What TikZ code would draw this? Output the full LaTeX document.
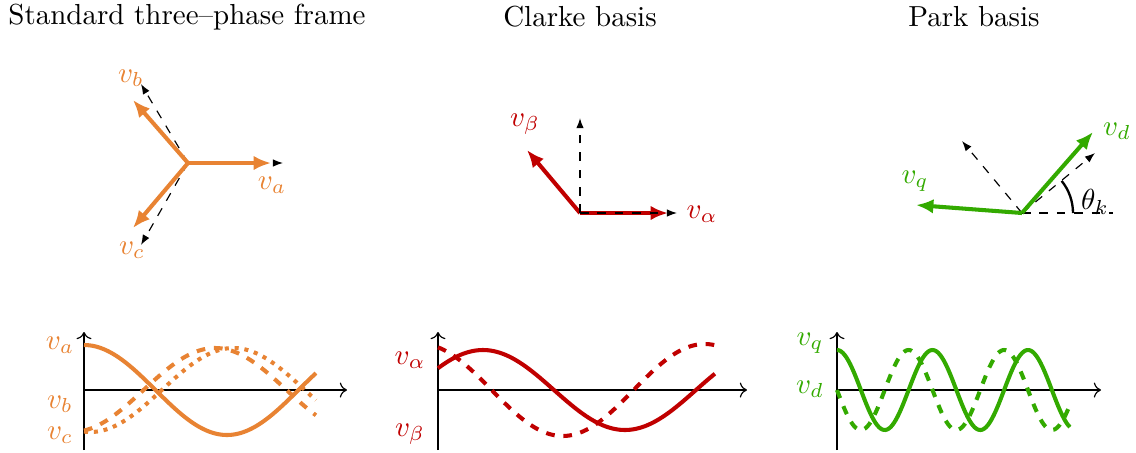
\documentclass[tikz,border=0pt]{standalone}
\usetikzlibrary{arrows.meta}
\definecolor{orng}{RGB}{232,131,51}
\definecolor{rd}{RGB}{192,0,0}
\definecolor{grn}{RGB}{51,170,0}
\begin{document}
\begin{tikzpicture}[x=0.345pt,y=-0.345pt,
  vec/.style={line width=1.4pt,-{Latex[length=6pt,width=5pt]}},
  axdash/.style={dashed,line width=0.4pt,-{Latex[length=3.5pt,width=2.6pt]}},
  axis/.style={line width=0.4pt,->},
  curve/.style={line width=1.4pt},
  lab/.style={inner sep=0pt}]
\useasboundingbox (0,0) rectangle (1136,452);

% titles
\node[lab] (t1) at (187,17) {Standard three--phase frame};
\node[lab] (t2) at (580,17) {Clarke basis};
\node[lab] (t3) at (974,17) {Park basis};

% ---------- panel 1: three-phase ----------
\coordinate (o1) at (188,163);
\coordinate (da) at (283,163);
\coordinate (db) at (141,84);
\coordinate (dc) at (141,245);
\coordinate (ea) at (271,163);
\coordinate (eb) at (133,100);
\coordinate (ec) at (133,228);
\draw[axdash] (o1) -- (da);
\draw[axdash] (o1) -- (db);
\draw[axdash] (o1) -- (dc);
\draw[vec,orng] (o1) -- (ea);
\draw[vec,orng] (o1) -- (eb);
\draw[vec,orng] (o1) -- (ec);
\node[lab,orng] (la) at (272,185) {$v_a$};
\node[lab,orng] (lb) at (131,78) {$v_b$};
\node[lab,orng] (lc) at (132,250) {$v_c$};

% ---------- panel 2: Clarke ----------
\coordinate (o2) at (580,213);
\coordinate (dal) at (677,213);
\coordinate (dbe) at (580,118);
\coordinate (eal) at (668,213);
\coordinate (ebe) at (527,150);
\draw[vec,rd] (o2) -- (eal);
\draw[vec,rd] (o2) -- (ebe);
\draw[axdash] (o2) -- (dal);
\draw[axdash,line width=0.5pt] (o2) -- (dbe);
\node[lab,rd] (lal) at (702,214) {$v_\alpha$};
\node[lab,rd] (lbe) at (525,124) {$v_\beta$};

% ---------- panel 3: Park ----------
\coordinate (o3) at (1022,213);
\coordinate (hx) at (1113,213);
\coordinate (dd) at (1095,153);
\coordinate (dq) at (962,141);
\coordinate (ed) at (1093,132);
\coordinate (eq) at (916,205);
\coordinate (arcs) at (1073,213);
\draw[dashed,line width=0.7pt] (o3) -- (hx);
\draw[axdash] (o3) -- (dd);
\draw[axdash] (o3) -- (dq);
\draw[vec,grn] (o3) -- (ed);
\draw[vec,grn] (o3) -- (eq);
\draw[line width=0.8pt] (arcs) arc[start angle=0,end angle=-39,radius=51];
\node[lab] (lth) at (1095,202) {$\theta_k$};
\node[lab,grn] (ld) at (1117,131) {$v_d$};
\node[lab,grn] (lq) at (915,181) {$v_q$};

% ---------- plot 1 ----------
\coordinate (p1b) at (84,450);
\coordinate (p1t) at (84,332);
\coordinate (p1l) at (84,390);
\coordinate (p1r) at (347,390);
\draw[axis] (p1b) -- (p1t);
\draw[axis] (p1l) -- (p1r);
\draw[curve,orng,dashed] plot[domain=0:292,samples=90] ({84+0.7944*\x},{390-42*cos(\x-165)});
\draw[curve,orng,dotted] plot[domain=0:292,samples=90] ({84+0.7944*\x},{390-42*cos(\x-188)});
\draw[curve,orng] plot[domain=0:292,samples=90] ({84+0.7944*\x},{390-45*cos(\x)});
\node[lab,orng] (pa) at (60,345) {$v_a$};
\node[lab,orng] (pb) at (60,404) {$v_b$};
\node[lab,orng] (pc) at (60,435) {$v_c$};

% ---------- plot 2 ----------
\coordinate (p2b) at (438,450);
\coordinate (p2t) at (438,332);
\coordinate (p2l) at (438,390);
\coordinate (p2r) at (747,390);
\draw[axis] (p2b) -- (p2t);
\draw[axis] (p2l) -- (p2r);
\draw[curve,rd,dashed] plot[domain=0:351,samples=100] ({438+0.7889*\x},{390-46*cos(\x+22)});
\draw[curve,rd] plot[domain=0:351,samples=100] ({438+0.7889*\x},{390-40*cos(\x-57)});
\node[lab,rd] (pal) at (410,360) {$v_\alpha$};
\node[lab,rd] (pbe) at (410,434) {$v_\beta$};

% ---------- plot 3 ----------
\coordinate (p3b) at (837,450);
\coordinate (p3t) at (837,332);
\coordinate (p3l) at (837,390);
\coordinate (p3r) at (1101,390);
\draw[axis] (p3b) -- (p3t);
\draw[axis] (p3l) -- (p3r);
\draw[curve,grn,dashed] plot[domain=0:878,samples=160] ({837+0.26528*\x},{390+40*sin(\x)});
\draw[curve,grn] plot[domain=0:878,samples=160] ({837+0.26528*\x},{390-40*cos(\x)});
\node[lab,grn] (pq) at (810,343) {$v_q$};
\node[lab,grn] (pd) at (810,389) {$v_d$};
\end{tikzpicture}
\end{document}
